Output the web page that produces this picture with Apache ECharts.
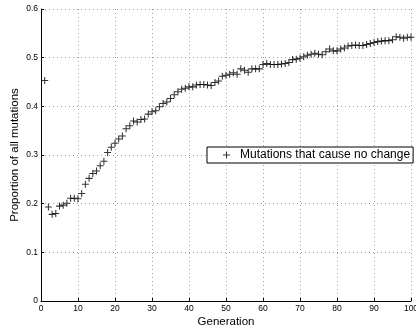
<!DOCTYPE html>
<html>
<head>
<meta charset="utf-8">
<script src="https://cdn.jsdelivr.net/npm/echarts@6/dist/echarts.min.js"></script>
<style>
  html, body { margin: 0; padding: 0; background: #fff; }
  #chart { width: 416px; height: 329px; }
</style>
</head>
<body>
<div id="chart"></div>
<script>
// Generation numbers and the share of mutations with no effect in each one
const generations = [
  1, 2, 3, 4, 5, 6, 7, 8, 9, 10,
  11, 12, 13, 14, 15, 16, 17, 18, 19, 20,
  21, 22, 23, 24, 25, 26, 27, 28, 29, 30,
  31, 32, 33, 34, 35, 36, 37, 38, 39, 40,
  41, 42, 43, 44, 45, 46, 47, 48, 49, 50,
  51, 52, 53, 54, 55, 56, 57, 58, 59, 60,
  61, 62, 63, 64, 65, 66, 67, 68, 69, 70,
  71, 72, 73, 74, 75, 76, 77, 78, 79, 80,
  81, 82, 83, 84, 85, 86, 87, 88, 89, 90,
  91, 92, 93, 94, 95, 96, 97, 98, 99, 100
];
const noChangeShare = [
  0.453, 0.193, 0.178, 0.180, 0.195, 0.197, 0.201, 0.211, 0.211, 0.210,
  0.221, 0.240, 0.252, 0.262, 0.267, 0.278, 0.287, 0.305, 0.316, 0.324,
  0.333, 0.339, 0.354, 0.360, 0.370, 0.368, 0.373, 0.374, 0.384, 0.389,
  0.391, 0.399, 0.406, 0.409, 0.416, 0.424, 0.430, 0.435, 0.437, 0.440,
  0.440, 0.444, 0.445, 0.445, 0.444, 0.443, 0.449, 0.452, 0.462, 0.464,
  0.466, 0.469, 0.466, 0.477, 0.474, 0.470, 0.477, 0.477, 0.477, 0.486,
  0.488, 0.486, 0.486, 0.486, 0.487, 0.488, 0.490, 0.496, 0.497, 0.499,
  0.502, 0.505, 0.507, 0.509, 0.507, 0.506, 0.512, 0.518, 0.514, 0.514,
  0.518, 0.520, 0.524, 0.525, 0.526, 0.525, 0.525, 0.527, 0.529, 0.531,
  0.533, 0.534, 0.535, 0.535, 0.537, 0.543, 0.542, 0.540, 0.542, 0.542
];
const seriesName = 'Mutations that cause no change';
const xTitle = 'Generation';
const yTitle = 'Proportion of all mutations';

const points = generations.map((g, i) => [g, noChangeShare[i]]);
const plusIcon = 'path://M4.25,0H5.75V4.25H10V5.75H5.75V10H4.25V5.75H0V4.25H4.25Z';
const font = 'Liberation Sans, Arial, Helvetica, sans-serif';

const chart = echarts.init(document.getElementById('chart'), null, { renderer: 'canvas' });
chart.setOption({
  animation: false,
  backgroundColor: '#fff',
  grid: { left: 41, right: 5, top: 9, bottom: 28, containLabel: false, outerBoundsMode: 'none' },
  legend: {
    left: 207, top: 147,
    backgroundColor: '#fff',
    borderColor: '#000', borderWidth: 1, borderRadius: 0,
    padding: [2, 3, 2, 16],
    itemWidth: 7, itemHeight: 7,
    icon: plusIcon,
    textStyle: { fontFamily: font, fontSize: 12, color: '#000', padding: [0, 0, 0, 5] },
    data: [{ name: seriesName, itemStyle: { color: '#000' } }]
  },
  xAxis: {
    type: 'value', min: 0, max: 100, interval: 10,
    name: xTitle, nameLocation: 'middle', nameGap: 15, nameMoveOverlap: false,
    nameTextStyle: { fontFamily: font, fontSize: 11.5, color: '#000' },
    axisLine: { show: true, onZero: false, lineStyle: { color: '#000', width: 1 } },
    axisTick: { show: true, inside: true, length: 3, lineStyle: { color: '#000' } },
    axisLabel: { fontFamily: font, fontSize: 8.5, color: '#000', margin: 3 },
    splitLine: { show: true, lineStyle: { color: '#a0a0a0', type: [1, 3], width: 1 } }
  },
  yAxis: {
    type: 'value', min: 0, max: 0.6, interval: 0.1,
    name: yTitle, nameLocation: 'middle', nameGap: 20, nameMoveOverlap: false,
    nameTextStyle: { fontFamily: font, fontSize: 11.5, color: '#000' },
    axisLine: { show: true, onZero: false, lineStyle: { color: '#000', width: 1 } },
    axisTick: { show: true, inside: true, length: 3, lineStyle: { color: '#000' } },
    axisLabel: { fontFamily: font, fontSize: 8.5, color: '#000', margin: 3 },
    splitLine: { show: true, lineStyle: { color: '#a0a0a0', type: [1, 3], width: 1 } }
  },
  series: [{
    name: seriesName,
    type: 'scatter',
    data: points,
    symbol: plusIcon,
    symbolSize: 7,
    itemStyle: { color: '#000' },
    silent: true
  }]
});
</script>
</body>
</html>
